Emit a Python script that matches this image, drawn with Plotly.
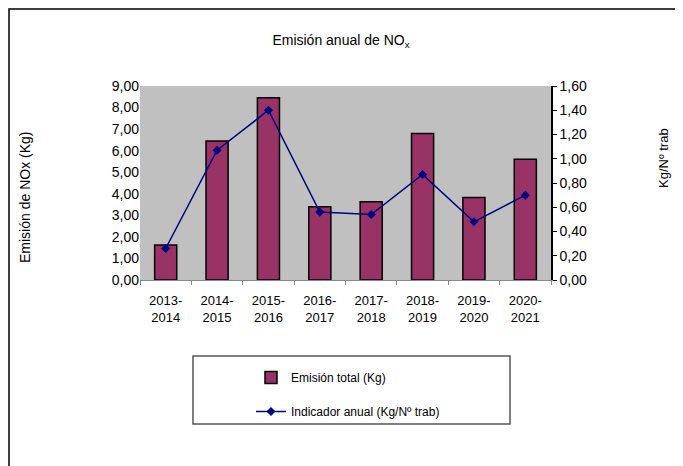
import plotly.graph_objects as go

periods = ["2013-<br>2014", "2014-<br>2015", "2015-<br>2016", "2016-<br>2017",
           "2017-<br>2018", "2018-<br>2019", "2019-<br>2020", "2020-<br>2021"]
emision_total = [1.62, 6.45, 8.46, 3.40, 3.63, 6.80, 3.83, 5.60]
indicador = [0.26, 1.07, 1.40, 0.56, 0.54, 0.87, 0.48, 0.70]

left_ticks = [0, 1, 2, 3, 4, 5, 6, 7, 8, 9]
right_ticks = [0, 0.2, 0.4, 0.6, 0.8, 1.0, 1.2, 1.4, 1.6]

BAR, LINE, BG = "#993366", "#000080", "#C0C0C0"
FONT = "Liberation Sans, Arial, sans-serif"

fig = go.Figure()
fig.add_trace(go.Bar(
    x=periods, y=emision_total, name="Emisión total (Kg)",
    marker=dict(color=BAR, line=dict(color="black", width=1.5)),
    width=0.43, legend="legend",
))
fig.add_trace(go.Scatter(
    x=periods, y=indicador, name="Indicador anual (Kg/Nº trab)", yaxis="y2",
    mode="lines+markers", line=dict(color=LINE, width=1.5),
    marker=dict(symbol="diamond", size=7, color=LINE), legend="legend2",
))

# the page body adds an 8px margin, so the figure is 8px smaller and every
# reference pixel position is taken minus 8
OFF = 8
W, H = 683 - OFF, 466 - OFF
L, T = 140 - OFF, 86 - OFF
R = W - (551 - OFF)
B = H - (280 - OFF)
pw, ph = W - L - R, H - T - B
def px(x): return (x - OFF - L) / pw
def py(y): return (H - B - (y - OFF)) / ph
def cx(x): return (x - OFF) / W
def cy(y): return 1 - (y - OFF) / H

fig.update_layout(
    width=W, height=H, margin=dict(l=L, r=R, t=T, b=B, autoexpand=False),
    paper_bgcolor="white", plot_bgcolor=BG,
    font=dict(family=FONT, size=13, color="black"),
    separators=",.",
    title=dict(text="Emisión anual de NO<sub>x</sub>", x=cx(341), xref="container",
               xanchor="center", y=cy(40), yref="container",
               yanchor="middle", font=dict(size=14)),
    xaxis=dict(showgrid=False, ticks="outside", tickson="boundaries", ticklen=4,
               tickcolor="#888888", showline=True, linecolor="#888888",
               ticklabelstandoff=8, tickfont=dict(size=13), automargin=False),
    yaxis=dict(range=[0, 9], tickvals=left_ticks, tickformat=".2f",
               showgrid=False, zeroline=False, showline=False, ticks="",
               tickfont=dict(size=14), automargin=False),
    yaxis2=dict(range=[0, 1.6], tickvals=right_ticks, tickformat=".2f",
                overlaying="y", side="right", showgrid=False, zeroline=False,
                showline=True, linecolor="black", linewidth=1.5,
                ticks="outside", ticklen=4, tickcolor="black",
                tickfont=dict(size=14), automargin=False),
    legend=dict(x=cx(251), y=cy(363), xref="container", yref="container",
                xanchor="left", yanchor="top",
                bgcolor="rgba(0,0,0,0)", font=dict(size=12)),
    legend2=dict(x=cx(251), y=cy(397), xref="container", yref="container",
                 xanchor="left", yanchor="top",
                 bgcolor="rgba(0,0,0,0)", font=dict(size=12)),
    showlegend=True,
    shapes=[
        dict(type="rect", xref="paper", yref="paper",
             x0=px(193), x1=px(510), y0=py(424), y1=py(356),
             line=dict(color="#555555", width=1.5), fillcolor="rgba(0,0,0,0)"),
        dict(type="rect", xref="paper", yref="paper",
             x0=px(OFF + 1), x1=px(700), y0=py(480), y1=py(OFF + 1),
             line=dict(color="black", width=1.5), fillcolor="rgba(0,0,0,0)"),
    ],
    annotations=[
        dict(text="Emisión de NOx (Kg)", textangle=-90, xref="paper", yref="paper",
             x=px(25), y=py(198), xanchor="center", yanchor="middle",
             showarrow=False, font=dict(size=14)),
        dict(text="Kg/Nº trab", textangle=-90, xref="paper", yref="paper",
             x=px(663), y=py(158), xanchor="center", yanchor="middle",
             showarrow=False, font=dict(size=13)),
    ],
)

fig.write_html("out.html")
